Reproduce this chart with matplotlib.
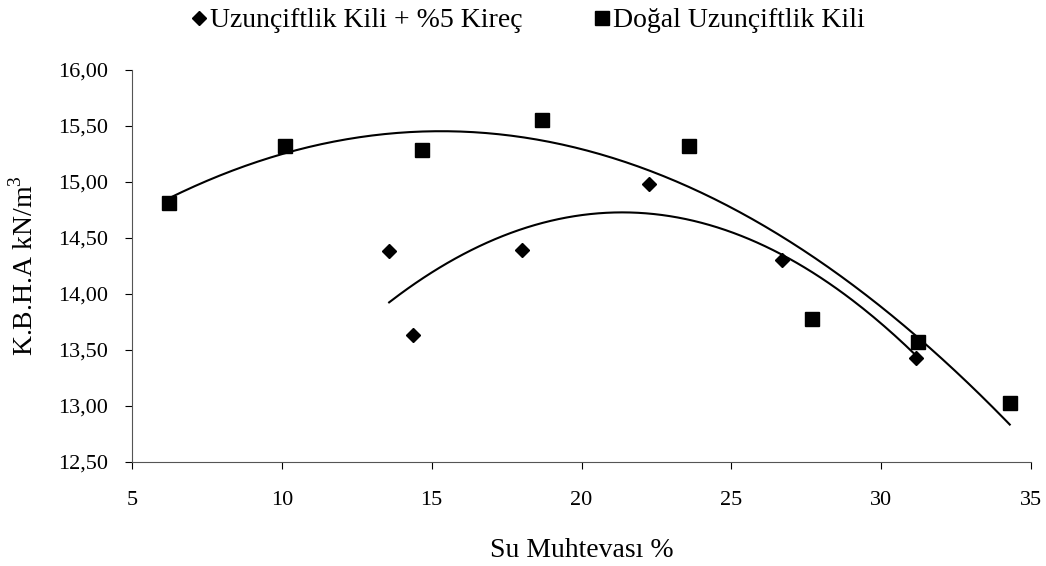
import numpy as np
import matplotlib.pyplot as plt

plt.rcParams['font.family'] = ['Liberation Serif', 'DejaVu Serif']
plt.rcParams['mathtext.fontset'] = 'custom'
plt.rcParams['mathtext.rm'] = 'Liberation Serif'

# Uzunçiftlik Kili + %5 Kireç
su_kirec = [13.58, 14.38, 18.02, 22.24, 26.69, 31.16]
kbha_kirec = [14.38, 13.63, 14.39, 14.98, 14.30, 13.43]

# Doğal Uzunçiftlik Kili
su_dogal = [6.24, 10.10, 14.68, 18.69, 23.60, 27.69, 31.24, 34.29]
kbha_dogal = [14.81, 15.32, 15.29, 15.55, 15.32, 13.78, 13.57, 13.03]

x_ticks = [5, 10, 15, 20, 25, 30, 35]
y_ticks = [12.5, 13.0, 13.5, 14.0, 14.5, 15.0, 15.5, 16.0]


def trend(x, y):
    # 2. derece polinom egilim cizgisi
    c = np.polyfit(x, y, 2)
    xs = np.linspace(min(x), max(x), 200)
    return xs, np.polyval(c, xs)


fig = plt.figure(figsize=(10.46, 5.66), dpi=100)
ax = fig.add_axes([0.1262, 0.1837, 0.8595, 0.6926])

ax.plot(su_kirec, kbha_kirec, 'D', color='black', ms=7.3, ls='none',
        label='Uzunçiftlik Kili + %5 Kireç')
ax.plot(su_dogal, kbha_dogal, 's', color='black', ms=10.5, ls='none',
        label='Doğal Uzunçiftlik Kili')

xs, ys = trend(su_kirec, kbha_kirec)
ax.plot(xs, ys, color='black', lw=1.5)
xs, ys = trend(su_dogal, kbha_dogal)
ax.plot(xs, ys, color='black', lw=1.5)

ax.set_xlim(5, 35)
ax.set_ylim(12.5, 16.0)
ax.set_xticks(x_ticks)
ax.set_yticks(y_ticks)
ax.set_yticklabels([f"{v:.2f}".replace('.', ',') for v in y_ticks])
ax.tick_params(axis='both', labelsize=16, direction='out', length=5,
               width=0.8, colors='black')
ax.tick_params(axis='x', pad=16)
ax.tick_params(axis='y', pad=12)

for s in ['top', 'right']:
    ax.spines[s].set_visible(False)
for s in ['left', 'bottom']:
    ax.spines[s].set_linewidth(0.8)
    ax.spines[s].set_color('#555555')

ax.set_xlabel('Su Muhtevası %', fontsize=20, labelpad=20)
ax.set_ylabel('K.B.H.A kN/m$^3$', fontsize=20, labelpad=14)

fig.legend(loc='upper center', bbox_to_anchor=(0.505, 1.03), ncol=2,
           frameon=False, fontsize=20, handlelength=0.5, handletextpad=0.15,
           columnspacing=2.6)

fig.savefig('out.png', dpi=100)
